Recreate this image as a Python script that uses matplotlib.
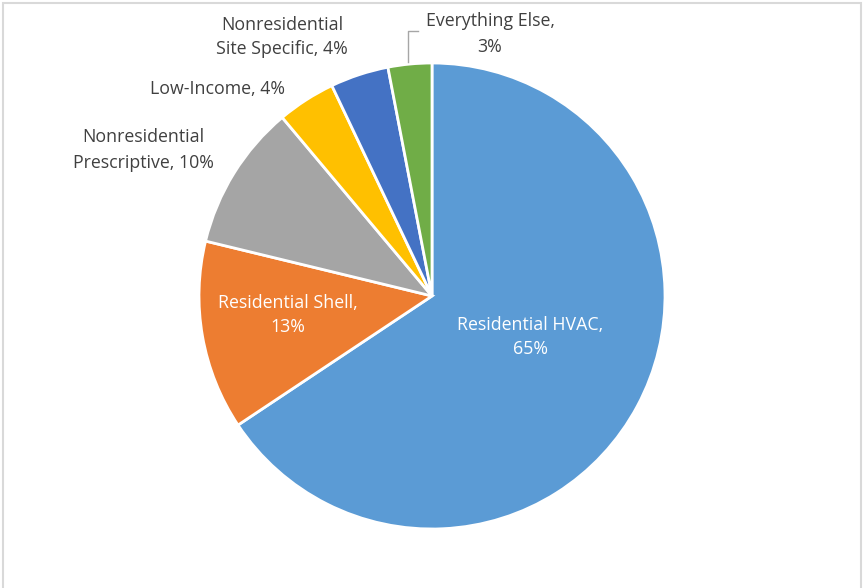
import matplotlib.pyplot as plt
from matplotlib.patches import Rectangle

# program share of savings
labels = ['Residential HVAC', 'Residential Shell', 'Nonresidential\nPrescriptive',
          'Low-Income', 'Nonresidential\nSite Specific', 'Everything Else']
shares = [65, 13, 10, 4, 4, 3]
colors = ['#5B9BD5', '#ED7D31', '#A5A5A5', '#FFC000', '#4472C4', '#70AD47']

W, H = 864, 588
cx, cy, r = 432, 296, 233

fig = plt.figure(figsize=(W / 100, H / 100), dpi=100)
ax = fig.add_axes([0, 0, 1, 1])

wedges, _ = ax.pie(shares, colors=colors, startangle=90, counterclock=False,
                   center=(cx, H - cy), radius=r,
                   wedgeprops=dict(edgecolor='white', linewidth=2))
ax.set_xlim(0, W)
ax.set_ylim(0, H)
ax.set_aspect('equal')
ax.axis('off')

# label text and placement (pixel coords from top-left)
texts = [f'{l}, {s}%' for l, s in zip(labels, shares)]
texts[0] = 'Residential HVAC,\n65%'
texts[1] = 'Residential Shell,\n13%'
texts[5] = 'Everything Else,\n3%'
label_pos = [(530, 337), (288, 315), (143, 150), (218, 89), (282, 37), (490, 34)]
label_col = ['white', 'white', '#404040', '#404040', '#404040', '#404040']

for t, (px, py), c in zip(texts, label_pos, label_col):
    ax.text(px, H - py, t, ha='center', va='center', color=c,
            fontsize=12.8, family='Open Sans', linespacing=1.5)

# leader line for the smallest slice
ax.plot([408, 408, 418], [H - 62, H - 31, H - 31], color='#A6A6A6', lw=1)

# chart border
fig.patches.append(Rectangle((3 / W, -0.01), (W - 6) / W, 1 - 3 / H + 0.01,
                             transform=fig.transFigure, fill=False,
                             edgecolor='#D9D9D9', lw=1.5))

fig.savefig('out.png', dpi=100)
